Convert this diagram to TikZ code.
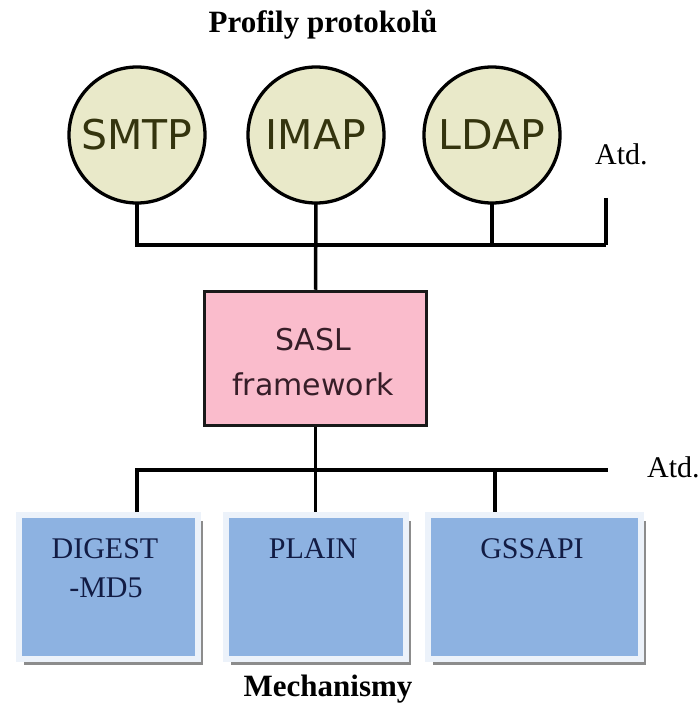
\documentclass[tikz,border=0pt]{standalone}
\usepackage{fontspec}
\setmainfont{Liberation Serif}
\newfontfamily\djv{DejaVu Sans}
\definecolor{beige}{RGB}{233,233,201}
\definecolor{olive}{RGB}{52,52,14}
\definecolor{pinkf}{RGB}{250,188,204}
\definecolor{plum}{RGB}{55,30,40}
\definecolor{bluef}{RGB}{141,178,225}
\definecolor{framec}{RGB}{236,242,250}
\definecolor{navy}{RGB}{18,28,68}
\definecolor{shadowc}{RGB}{140,140,140}
\tikzset{
  wire/.style={line width=3.5pt, black},
  proto/.style={circle, draw=black, line width=3.3pt, fill=beige, minimum size=136pt, inner sep=0pt, outer sep=0pt,
    text=olive, font=\djv\fontsize{41}{46}\selectfont},
  saslbox/.style={rectangle, draw=black!90, line width=3.5pt, fill=pinkf, minimum width=222pt, minimum height=134pt, inner sep=0pt, outer sep=1.75pt},
  mechbox/.style={rectangle, draw=framec, line width=6pt, fill=bluef, minimum height=144pt, inner sep=0pt, outer sep=3pt,
    preaction={fill=shadowc, transform canvas={xshift=5pt, yshift=-6pt}}},
  sasltext/.style={anchor=base, inner sep=0pt, text=plum, font=\djv\fontsize{30}{34}\selectfont},
  mechtext/.style={anchor=base, inner sep=0pt, text=navy, font=\fontsize{30}{36}\selectfont},
  plaintext/.style={inner sep=0pt, text=black, font=\fontsize{30}{36}\selectfont},
  headtext/.style={anchor=base, inner sep=0pt, text=black, font=\bfseries\fontsize{31}{36}\selectfont},
}
\begin{document}
\begin{tikzpicture}[x=1pt, y=-1pt]
\useasboundingbox[fill=white] (0,0) rectangle (700,703);

% title
\node[headtext] (title) at (323,33) {Profily protokolů};

% bus coordinates
\coordinate (busR) at (606,245);
\coordinate (busRtop) at (606,198);
\coordinate (lbusR) at (608,470);
\coordinate (lbusL) at (137,470);
\coordinate (lbusM) at (495,470);

% protocol circles
\node[proto] (smtp) at (137,135) {SMTP};
\node[proto] (imap) at (316,135) {IMAP};
\node[proto] (ldap) at (492,135) {LDAP};

% SASL box
\node[saslbox] (sasl) at (315.5,358.5) {};

% upper connectors
\draw[wire] (smtp.south) |- (busR);
\draw[wire] (busRtop) -- (busR);
\draw[wire] (ldap.south) -- (ldap.south |- busR);
\draw[wire] (imap.south) -- (sasl.north);

% mechanism boxes
\node[mechbox, minimum width=179pt] (digest) at (108.5,587) {};
\node[mechbox, minimum width=180pt] (plain) at (316,587) {};
\node[mechbox, minimum width=213pt] (gss) at (534.5,587) {};

% lower connectors
\draw[wire] (sasl.south) -- (sasl.south |- lbusR);
\draw[wire] (lbusL |- digest.north) |- (lbusR);
\draw[wire] (lbusM) -- (lbusM |- gss.north);
\draw[wire] (lbusR -| sasl.south) -- (plain.north -| sasl.south);

% texts
\node[sasltext] (sasl1) at (313,350) {SASL};
\node[sasltext] (sasl2) at (313,395) {framework};

\node[mechtext] (dig1) at (105,558) {DIGEST};
\node[mechtext] (dig2) at (106,597) {-MD5};
\node[mechtext] (pl1) at (313,558) {PLAIN};
\node[mechtext] (gs1) at (532,558) {GSSAPI};

\node[plaintext, anchor=base west] (atd1) at (595,165) {Atd.};
\node[plaintext, anchor=base west] (atd2) at (647,477) {Atd.};

\node[headtext] (mech) at (328,696) {Mechanismy};
\end{tikzpicture}
\end{document}
